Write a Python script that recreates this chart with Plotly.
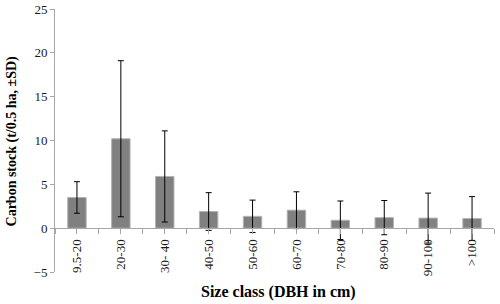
import plotly.graph_objects as go

categories = ["9.5-20", "20-30", "30- 40", "40-50", "50-60", "60-70", "70-80", "80-90", "90-100", ">100"]
carbon = [3.5, 10.2, 5.9, 1.9, 1.35, 2.05, 0.9, 1.2, 1.15, 1.1]
sd = [1.8, 8.9, 5.2, 2.15, 1.85, 2.1, 2.2, 1.95, 2.85, 2.5]
y_ticks = [-5, 0, 5, 10, 15, 20, 25]

xpos = list(range(len(categories)))
tickvals = []
ticktext = []
for i, c in enumerate(categories):
    tickvals += [i - 0.5, i]
    ticktext += ["", c]
tickvals.append(len(categories) - 0.5)
ticktext.append("")

fig = go.Figure()
fig.add_trace(go.Bar(
    x=xpos, y=carbon, width=0.42,
    marker=dict(color="#808080", line=dict(color="#b3b3b3", width=1)),
    error_y=dict(type="data", array=sd, visible=True, color="#000000", thickness=1, width=3),
))

serif = "Liberation Serif"
fig.update_layout(
    width=500, height=304,
    margin=dict(l=55, r=6, t=9, b=32, autoexpand=False),
    plot_bgcolor="white", paper_bgcolor="white",
    showlegend=False,
    font=dict(family=serif, size=13, color="#1a1a1a"),
    xaxis=dict(
        range=[-0.5, len(categories) - 0.5],
        tickmode="array", tickvals=tickvals, ticktext=ticktext,
        tickangle=-90, automargin=False,
        anchor="free", position=5 / 30,
        showline=True, linecolor="#a6a6a6", linewidth=1,
        ticks="outside", ticklen=5, tickcolor="#a6a6a6",
        showgrid=False, zeroline=False,
        tickfont=dict(family=serif, size=13, color="#1a1a1a"),
    ),
    yaxis=dict(
        range=[-5, 25], tickvals=y_ticks, automargin=False,
        showline=True, linecolor="#a6a6a6", linewidth=1,
        ticks="outside", ticklen=4, tickcolor="#a6a6a6",
        showgrid=False, zeroline=False,
        tickfont=dict(family=serif, size=13, color="#1a1a1a"),
    ),
    annotations=[
        dict(text="<b>Size class (DBH in cm)</b>", x=0.51, y=-0.076,
             xref="paper", yref="paper", xanchor="center", yanchor="middle",
             showarrow=False, font=dict(family=serif, size=16, color="#000000")),
        dict(text="<b>Carbon stock (t/0.5 ha, ±SD)</b>", x=-0.098, y=0.5, textangle=-90,
             xref="paper", yref="paper", xanchor="center", yanchor="middle",
             showarrow=False, font=dict(family=serif, size=14, color="#000000")),
    ],
)

fig.write_html("out.html", config={"displayModeBar": False},
               post_script="document.body.style.margin='0';document.body.style.padding='0';")
